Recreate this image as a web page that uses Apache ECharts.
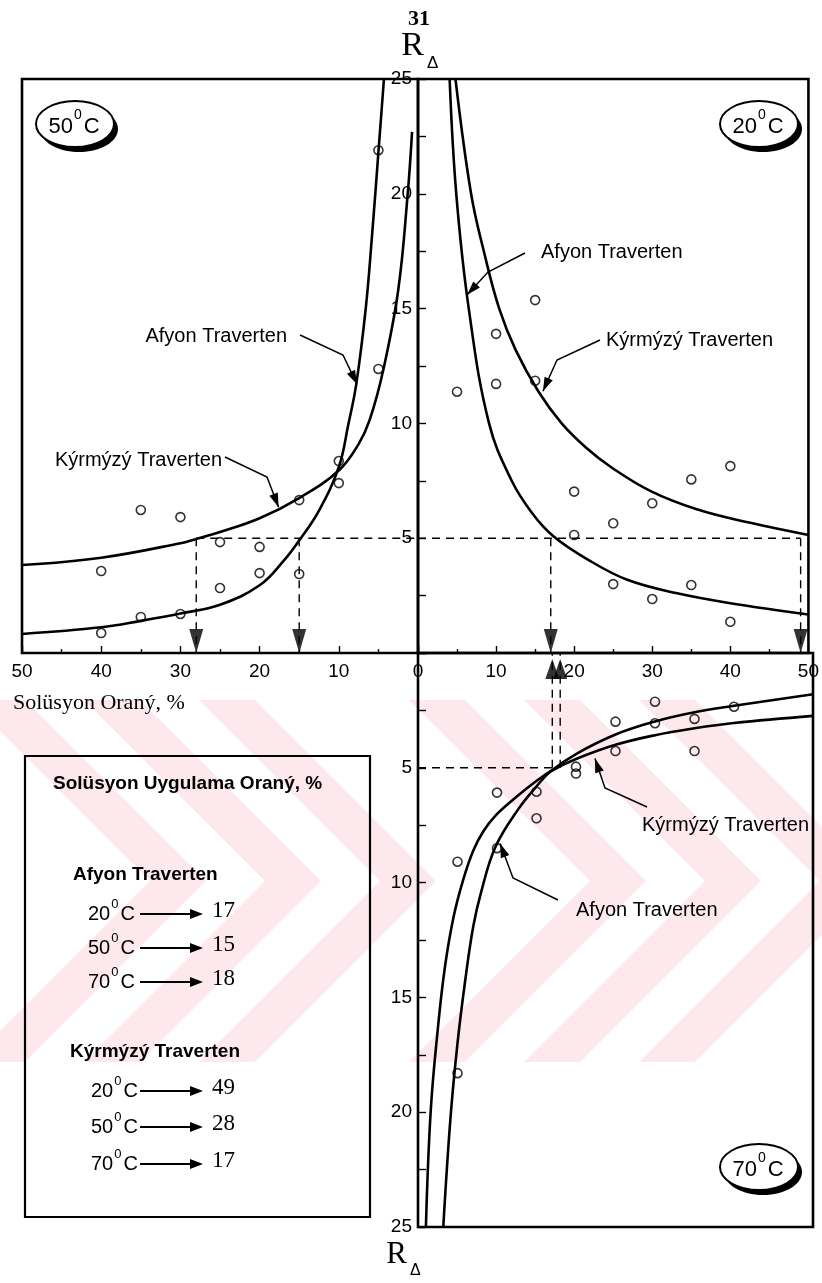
<!DOCTYPE html>
<html>
<head>
<meta charset="utf-8">
<script src="https://cdn.jsdelivr.net/npm/echarts@6/dist/echarts.min.js"></script>
<style>
  html, body { margin: 0; padding: 0; background: #fff; }
  #chart { width: 822px; height: 1283px; }
</style>
</head>
<body>
<div id="chart"></div>
<script>
// ---- axis ticks ----
const ratioTicks = [0, 10, 20, 30, 40, 50];
const rTicks = [0, 5, 10, 15, 20, 25];

// ---- 50 °C : measured points and fitted curves ----
const obs50X = [40, 35, 30, 25, 20, 15, 10, 5, 40, 35, 30, 25, 20, 15, 10, 5];
const obs50Y = [0.87, 1.57, 1.70, 2.83, 3.48, 3.44, 7.40, 21.9, 3.57, 6.23, 5.92, 4.83, 4.62, 6.66, 8.36, 12.37];
const afyon50X = [4.3, 5.0, 5.8, 6.6, 7.8, 8.8, 10.0, 12.5, 15.0, 17.0, 20.0, 25.0, 30.0, 35.0, 40.0, 50.0];
const afyon50Y = [25.0, 21.8, 18.2, 15.0, 11.7, 9.95, 8.1, 6.2, 4.9, 4.0, 2.95, 2.1, 1.72, 1.4, 1.12, 0.83];
const kirmizi50X = [0.75, 1.3, 2.5, 4.4, 6.1, 7.5, 10.0, 15.0, 20.0, 25.0, 28.0, 30.0, 40.0, 50.0];
const kirmizi50Y = [22.7, 20.0, 15.8, 12.3, 10.15, 9.1, 7.95, 6.75, 5.87, 5.27, 4.97, 4.78, 4.15, 3.83];

// ---- 20 °C ----
const obs20X = [5, 10, 10, 15, 15, 20, 20, 25, 25, 30, 30, 35, 35, 40, 40];
const obs20Y = [11.38, 11.72, 13.9, 11.86, 15.37, 7.03, 5.14, 5.65, 3.0, 6.52, 2.35, 7.56, 2.96, 8.14, 1.36];
const afyon20X = [4.05, 4.9, 6.5, 9.1, 12.0, 14.6, 17.3, 21.8, 26.8, 33.2, 40.0, 50.0];
const afyon20Y = [25.0, 20.0, 15.0, 10.0, 7.5, 6.1, 5.1, 4.06, 3.19, 2.6, 2.17, 1.68];
const kirmizi20X = [4.8, 6.8, 8.5, 10.4, 12.5, 15.4, 18.4, 21.5, 24.7, 29.8, 35.7, 42.4, 50.0];
const kirmizi20Y = [25.0, 20.0, 17.4, 15.0, 13.2, 11.4, 10.0, 8.95, 8.1, 7.05, 6.26, 5.68, 5.14];

// ---- 70 °C ----
const obs70X = [30, 40, 25, 30, 35, 25, 35, 20, 20, 15, 15, 10, 10, 5, 5];
const obs70Y = [2.12, 2.34, 2.99, 3.06, 2.87, 4.27, 4.27, 4.95, 5.25, 6.04, 7.2, 6.08, 8.5, 9.09, 18.3];
const afyon70X = [3.2, 4.1, 5.0, 6.0, 7.0, 8.0, 9.8, 12.7, 14.9, 16.8, 20.0, 25.0, 30.0, 35.0, 40.0, 50.0];
const afyon70Y = [25.0, 20.3, 17.0, 14.2, 11.9, 10.4, 8.45, 6.8, 5.85, 5.15, 4.4, 3.55, 2.98, 2.58, 2.3, 1.8];
const kirmizi70X = [1.0, 1.6, 2.5, 3.4, 4.5, 5.7, 7.0, 8.3, 9.9, 12.7, 14.9, 16.8, 20.0, 25.0, 30.0, 35.0, 40.0, 50.0];
const kirmizi70Y = [25.0, 20.0, 16.4, 13.7, 11.5, 9.9, 8.6, 7.75, 7.05, 6.2, 5.6, 5.15, 4.62, 4.0, 3.58, 3.28, 3.05, 2.74];

// ---- solution ratio that gives R = 5 (20, 50, 70 °C) ----
const rTarget = 5;
const tempLabels = ['20', '50', '70'];
const afyonRatio = [17, 15, 18];
const kirmiziRatio = [49, 28, 17];

const SANS = "'Liberation Sans', Arial, sans-serif";
const SERIF = "'Liberation Serif', 'Times New Roman', serif";

const zip = (xs, ys) => xs.map((x, i) => [x, ys[i]]);

// panel layout: 0 = upper-left (50 °C), 1 = upper-right (20 °C), 2 = lower-right (70 °C)
const grids = [
  { left: 22, top: 79, width: 396, height: 574 },
  { left: 418, top: 79, width: 395, height: 574 },
  { left: 418, top: 653, width: 395, height: 574 }
].map(g => Object.assign({ show: true, borderColor: '#000', borderWidth: 2.6, backgroundColor: 'transparent' }, g));

const tickStyle = { color: '#000', width: 1.4 };
const labelStyle = { show: true, color: '#000', fontSize: 19, fontFamily: SANS };
function xAxis(gi, extra) {
  return Object.assign({
    type: 'value', gridIndex: gi, min: 0, max: 50, interval: 10,
    axisLine: { show: false }, splitLine: { show: false },
    axisTick: { show: true, inside: true, length: 7, lineStyle: tickStyle },
    minorTick: { show: true, splitNumber: 2, length: 4, lineStyle: tickStyle },
    axisLabel: Object.assign({ margin: 9 }, labelStyle)
  }, extra);
}
function yAxis(gi, extra) {
  return Object.assign({
    type: 'value', gridIndex: gi, min: 0, max: 25, interval: 5,
    axisLine: { show: false }, splitLine: { show: false },
    axisTick: { show: true, inside: true, length: 8, lineStyle: tickStyle },
    minorTick: { show: true, splitNumber: 2, length: 8, lineStyle: tickStyle },
    axisLabel: Object.assign({ margin: 6, formatter: v => (v === 0 ? '' : String(v)) }, labelStyle)
  }, extra);
}

const xAxes = [
  xAxis(0, { inverse: true, position: 'bottom',
    axisLabel: Object.assign({ margin: 9, formatter: v => (v === 0 ? '' : String(v)) }, labelStyle) }),
  xAxis(1, { position: 'bottom' }),
  xAxis(2, { position: 'top', axisTick: { show: false }, minorTick: { show: false }, axisLabel: { show: false } })
];
const yAxes = [
  yAxis(0, { position: 'right', axisTick: { show: false }, minorTick: { show: false }, axisLabel: { show: false } }),
  yAxis(1, { position: 'left' }),
  yAxis(2, { position: 'left', inverse: true })
];

function curve(xs, ys, gi) {
  return { type: 'line', xAxisIndex: gi, yAxisIndex: gi, data: zip(xs, ys), smooth: 0.4,
    symbol: 'none', showSymbol: false, silent: true, lineStyle: { color: '#000', width: 2.6 }, z: 5 };
}
function dots(xs, ys, gi) {
  return { type: 'scatter', xAxisIndex: gi, yAxisIndex: gi, data: zip(xs, ys), symbol: 'circle', symbolSize: 9,
    silent: true, itemStyle: { color: 'rgba(0,0,0,0)', borderColor: '#000', borderWidth: 1.6 }, z: 6 };
}
function guide(pts, gi) {
  return { type: 'line', xAxisIndex: gi, yAxisIndex: gi, data: pts, symbol: 'none', showSymbol: false, silent: true,
    lineStyle: { color: '#000', width: 1.4, type: [8, 6] }, z: 4 };
}
function heads(xs, gi, down) {
  return { type: 'scatter', xAxisIndex: gi, yAxisIndex: gi, data: xs.map(x => [x, 0]), clip: false, silent: true,
    symbol: 'triangle', symbolSize: down ? [14, 24] : [14, 20], symbolRotate: down ? 180 : 0,
    symbolOffset: down ? [0, -12] : [0, 16], itemStyle: { color: '#000' }, z: 7 };
}

const series = [
  // 50 °C
  curve(afyon50X, afyon50Y, 0), curve(kirmizi50X, kirmizi50Y, 0), dots(obs50X, obs50Y, 0),
  guide([[Math.max(afyonRatio[1], kirmiziRatio[1]), rTarget], [0, rTarget]], 0),
  guide([[afyonRatio[1], rTarget], [afyonRatio[1], 0]], 0),
  guide([[kirmiziRatio[1], rTarget], [kirmiziRatio[1], 0]], 0),
  heads([afyonRatio[1], kirmiziRatio[1]], 0, true),
  // 20 °C
  curve(afyon20X, afyon20Y, 1), curve(kirmizi20X, kirmizi20Y, 1), dots(obs20X, obs20Y, 1),
  guide([[0, rTarget], [Math.max(afyonRatio[0], kirmiziRatio[0]), rTarget]], 1),
  guide([[afyonRatio[0], rTarget], [afyonRatio[0], 0]], 1),
  guide([[kirmiziRatio[0], rTarget], [kirmiziRatio[0], 0]], 1),
  heads([afyonRatio[0], kirmiziRatio[0]], 1, true),
  // 70 °C
  curve(afyon70X, afyon70Y, 2), curve(kirmizi70X, kirmizi70Y, 2), dots(obs70X, obs70Y, 2),
  guide([[0, rTarget], [Math.min(afyonRatio[2], kirmiziRatio[2]), rTarget]], 2),
  guide([[afyonRatio[2], rTarget], [afyonRatio[2], 0]], 2),
  guide([[kirmiziRatio[2], rTarget], [kirmiziRatio[2], 0]], 2),
  heads([afyonRatio[2], kirmiziRatio[2]], 2, false)
];

const chart = echarts.init(document.getElementById('chart'), null, { renderer: 'canvas' });
chart.setOption({
  animation: false,
  backgroundColor: '#fff',
  grid: grids,
  xAxis: xAxes,
  yAxis: yAxes,
  series: series
});

// ---------- annotations ----------
const toPx = (gi, pt) => chart.convertToPixel({ xAxisIndex: gi, yAxisIndex: gi }, pt);

function arrowHead(tip, from, len, half, z) {
  const dx = tip[0] - from[0], dy = tip[1] - from[1];
  const d = Math.hypot(dx, dy) || 1;
  const ux = dx / d, uy = dy / d;
  const bx = tip[0] - ux * len, by = tip[1] - uy * len;
  return { type: 'polygon', z: z || 60, silent: true,
    shape: { points: [tip, [bx - uy * half, by + ux * half], [bx + uy * half, by - ux * half]] },
    style: { fill: '#000' } };
}

// curve labels: text, panel, tip on the curve (data), elbow and start of the leader (px), text anchor (px)
const callouts = [
  { text: 'Afyon Traverten', gi: 0, tip: [7.7, 11.7], mid: [343, 355], start: [300, 335], at: [287, 336], align: 'right' },
  { text: 'Kýrmýzý Traverten', gi: 0, tip: [17.6, 6.35], mid: [267, 477], start: [225, 457], at: [222, 460], align: 'right' },
  { text: 'Afyon Traverten', gi: 1, tip: [6.3, 15.6], mid: [488, 272], start: [525, 253], at: [541, 252], align: 'left' },
  { text: 'Kýrmýzý Traverten', gi: 1, tip: [16.0, 11.4], mid: [557, 360], start: [600, 340], at: [606, 340], align: 'left' },
  { text: 'Kýrmýzý Traverten', gi: 2, tip: [22.4, 4.6], mid: [605, 788], start: [647, 807], at: [642, 825], align: 'left' },
  { text: 'Afyon Traverten', gi: 2, tip: [10.4, 8.3], mid: [513, 878], start: [558, 900], at: [576, 910], align: 'left' }
];

const g = [];

// faint background chevrons
const wmTop = 700, wmBot = 1062, wmMid = (wmTop + wmBot) / 2, arm = (wmBot - wmTop) / 2, wmW = 56;
[150, 265, 380, 590, 705, 820].forEach(a => {
  g.push({ type: 'polygon', z: -5, silent: true,
    shape: { points: [[a - arm, wmTop], [a - arm + wmW, wmTop], [a + wmW, wmMid], [a - arm + wmW, wmBot], [a - arm, wmBot], [a, wmMid]] },
    style: { fill: '#fde9ed' } });
});

callouts.forEach(c => {
  const tip = toPx(c.gi, c.tip);
  g.push({ type: 'polyline', z: 60, silent: true, shape: { points: [c.start, c.mid, tip] },
    style: { stroke: '#000', lineWidth: 1.5, fill: null } });
  g.push(arrowHead(tip, c.mid, 14, 4.5));
  g.push({ type: 'text', z: 60, silent: true, x: c.at[0], y: c.at[1],
    style: { text: c.text, font: `20px ${SANS}`, fill: '#000', align: c.align, verticalAlign: 'middle' } });
});

// temperature badges
function tempRich(size, sup) {
  return {
    n: { fontSize: size, fontFamily: SANS, fill: '#000', lineHeight: size + 7, verticalAlign: 'bottom' },
    s: { fontSize: sup, fontFamily: SANS, fill: '#000', verticalAlign: 'top', padding: [0, 2, 0, 1] }
  };
}
function badge(cx, cy, t) {
  g.push({ type: 'ellipse', z: 50, silent: true, shape: { cx: cx + 4, cy: cy + 5, rx: 39, ry: 23 }, style: { fill: '#000' } });
  g.push({ type: 'ellipse', z: 51, silent: true, shape: { cx: cx, cy: cy, rx: 39, ry: 23 },
    style: { fill: '#fff', stroke: '#000', lineWidth: 2 } });
  g.push({ type: 'text', z: 52, silent: true, x: cx - 1, y: cy - 1,
    style: { text: `{n|${t}}{s|0}{n|C}`, rich: tempRich(22, 14), align: 'center', verticalAlign: 'middle' } });
}
badge(75, 124, tempLabels[1]);
badge(759, 124, tempLabels[0]);
badge(759, 1167, tempLabels[2]);

// axis titles and page number
g.push({ type: 'text', z: 60, silent: true, x: 419, y: 19,
  style: { text: '31', font: `bold 22px ${SERIF}`, fill: '#000', align: 'center', verticalAlign: 'middle' } });
function rDelta(x, y, size) {
  g.push({ type: 'text', z: 60, silent: true, x: x, y: y,
    style: { text: 'R', font: `${size}px ${SERIF}`, fill: '#000', align: 'right', verticalAlign: 'bottom' } });
  g.push({ type: 'text', z: 60, silent: true, x: x + 3, y: y + 9,
    style: { text: 'Δ', font: `${Math.round(size * 0.5)}px ${SANS}`, fill: '#000', align: 'left', verticalAlign: 'bottom' } });
}
rDelta(424, 63, 34);
rDelta(407, 1270, 31);
g.push({ type: 'text', z: 60, silent: true, x: 13, y: 703,
  style: { text: 'Solüsyon Oraný, %', font: `22px ${SERIF}`, fill: '#000', align: 'left', verticalAlign: 'middle' } });

// summary box
g.push({ type: 'rect', z: 40, silent: true, shape: { x: 25, y: 756, width: 345, height: 461 },
  style: { fill: 'rgba(0,0,0,0)', stroke: '#000', lineWidth: 2.2 } });
g.push({ type: 'text', z: 60, silent: true, x: 53, y: 784,
  style: { text: 'Solüsyon Uygulama Oraný, %', font: `bold 19px ${SANS}`, fill: '#000', align: 'left', verticalAlign: 'middle' } });

function block(title, titleX, titleY, rowYs, values, tx) {
  g.push({ type: 'text', z: 60, silent: true, x: titleX, y: titleY,
    style: { text: title, font: `bold 19px ${SANS}`, fill: '#000', align: 'left', verticalAlign: 'middle' } });
  rowYs.forEach((y, i) => {
    g.push({ type: 'text', z: 60, silent: true, x: tx, y: y,
      style: { text: `{n|${tempLabels[i]}}{s|0}{n|C}`, rich: tempRich(20, 13), align: 'left', verticalAlign: 'middle' } });
    g.push({ type: 'line', z: 60, silent: true, shape: { x1: 140, y1: y + 3, x2: 192, y2: y + 3 },
      style: { stroke: '#000', lineWidth: 1.8 } });
    g.push(arrowHead([203, y + 3], [140, y + 3], 13, 5));
    g.push({ type: 'text', z: 60, silent: true, x: 212, y: y,
      style: { text: String(values[i]), font: `23px ${SERIF}`, fill: '#000', align: 'left', verticalAlign: 'middle' } });
  });
}
block('Afyon Traverten', 73, 875, [911, 945, 979], afyonRatio, 88);
block('Kýrmýzý Traverten', 70, 1052, [1088, 1124, 1161], kirmiziRatio, 91);

chart.setOption({ graphic: { elements: g } });
</script>
</body>
</html>
